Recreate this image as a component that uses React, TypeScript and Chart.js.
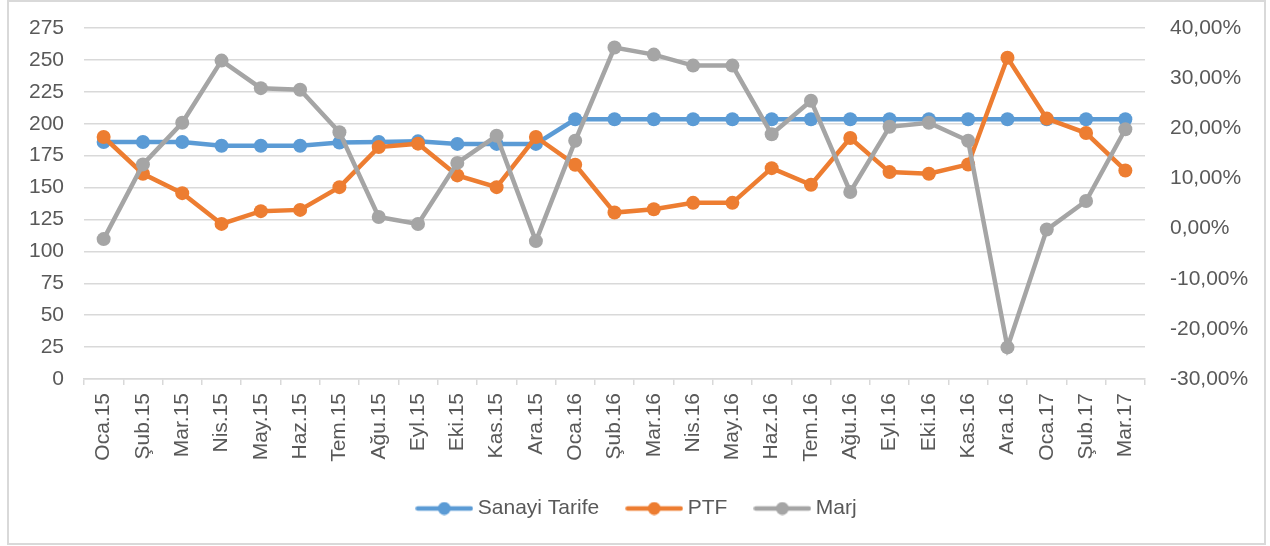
import React, { useEffect, useRef } from "react";
import { Chart, registerables } from "chart.js";

Chart.register(...registerables);

const categories = [
  "Oca.15", "Şub.15", "Mar.15", "Nis.15", "May.15", "Haz.15", "Tem.15", "Ağu.15", "Eyl.15",
  "Eki.15", "Kas.15", "Ara.15", "Oca.16", "Şub.16", "Mar.16", "Nis.16", "May.16", "Haz.16",
  "Tem.16", "Ağu.16", "Eyl.16", "Eki.16", "Kas.16", "Ara.16", "Oca.17", "Şub.17", "Mar.17",
];

const sanayiTarife = [
  185.7, 185.7, 185.7, 182.8, 182.8, 182.8, 185.2, 185.7, 186.2,
  184.2, 184.2, 184.2, 203.5, 203.5, 203.5, 203.5, 203.5, 203.5,
  203.5, 203.5, 203.5, 203.5, 203.5, 203.5, 203.5, 203.5, 203.5,
];

const ptf = [
  189.6, 160.8, 145.6, 121.5, 131.5, 132.5, 150.3, 181.7, 184.4,
  159.5, 150.3, 189.6, 167.9, 130.4, 133.0, 138.0, 138.0, 165.2,
  152.2, 188.8, 162.1, 160.8, 168.1, 251.7, 204.0, 192.7, 163.4,
];

// Marj in percent (right axis)
const marj = [
  -2.1, 12.8, 21.1, 33.5, 28.0, 27.7, 19.2, 2.3, 0.9,
  13.1, 18.5, -2.5, 17.5, 36.1, 34.7, 32.5, 32.5, 18.8,
  25.5, 7.3, 20.3, 21.1, 17.5, -23.7, -0.2, 5.5, 19.8,
];

const seriesNames = ["Sanayi Tarife", "PTF", "Marj"];
const seriesColors = ["#5B9BD5", "#ED7D31", "#A5A5A5"];

const leftMin = 0;
const leftMax = 275;
const leftStep = 25;
const rightMin = -30;
const rightMax = 40;
const rightStep = 10;

const FONT = "'Liberation Sans', Arial, sans-serif";
const TEXT_COLOR = "#595959";
const GRID_COLOR = "#d9d9d9";

function legendIcon(color: string): HTMLCanvasElement {
  const c = document.createElement("canvas");
  c.width = 58;
  c.height = 14;
  const ctx = c.getContext("2d")!;
  ctx.strokeStyle = color;
  ctx.lineWidth = 4.5;
  ctx.lineCap = "round";
  ctx.beginPath();
  ctx.moveTo(2.5, 7);
  ctx.lineTo(55.5, 7);
  ctx.stroke();
  ctx.fillStyle = color;
  ctx.beginPath();
  ctx.arc(29, 7, 6.5, 0, Math.PI * 2);
  ctx.fill();
  return c;
}

export default function App() {
  const canvasRef = useRef<HTMLCanvasElement | null>(null);

  useEffect(() => {
    const canvas = canvasRef.current;
    if (!canvas) return;
    const icons = seriesColors.map((c) => legendIcon(c));
    const seriesData = [sanayiTarife, ptf, marj];
    const axes = ["y", "y", "y1"];
    const orders = [3, 2, 1];

    const chart = new Chart(canvas, {
      type: "line",
      data: {
        labels: categories,
        datasets: seriesNames.map((name, i) => ({
          label: name,
          data: seriesData[i],
          yAxisID: axes[i],
          order: orders[i],
          borderColor: seriesColors[i],
          backgroundColor: seriesColors[i],
          borderWidth: 4.5,
          pointRadius: 7,
          pointBorderWidth: 0,
          pointBackgroundColor: seriesColors[i],
          pointHoverRadius: 7,
          tension: 0,
          fill: false,
        })),
      },
      options: {
        animation: false,
        responsive: false,
        devicePixelRatio: 1,
        layout: { padding: { left: 8, right: 0, top: 28, bottom: 17 } },
        plugins: {
          tooltip: { enabled: false },
          legend: {
            position: "bottom",
            labels: {
              usePointStyle: true,
              pointStyleWidth: 46,
              padding: 32,
              color: TEXT_COLOR,
              font: { size: 21, family: FONT },
              generateLabels: () =>
                seriesNames.map((name, i) => ({
                  text: name,
                  pointStyle: icons[i] as any,
                  fillStyle: seriesColors[i],
                  strokeStyle: seriesColors[i],
                  lineWidth: 0,
                  hidden: false,
                  datasetIndex: i,
                  fontColor: TEXT_COLOR,
                })),
            },
          },
        },
        scales: {
          x: {
            type: "category",
            offset: true,
            grid: {
              offset: true,
              drawOnChartArea: false,
              drawTicks: true,
              tickLength: 6,
              color: GRID_COLOR,
              lineWidth: 1.5,
            },
            border: { display: true, color: GRID_COLOR, width: 1.5 },
            ticks: {
              autoSkip: false,
              maxRotation: 90,
              minRotation: 90,
              padding: 8,
              color: TEXT_COLOR,
              font: { size: 21, family: FONT },
            },
            afterFit: (s: any) => {
              s.height = 87;
            },
          },
          y: {
            position: "left",
            min: leftMin,
            max: leftMax,
            ticks: {
              stepSize: leftStep,
              padding: 20,
              color: TEXT_COLOR,
              font: { size: 21, family: FONT },
            },
            grid: { color: GRID_COLOR, lineWidth: 1.5, drawTicks: false },
            border: { display: false },
            afterFit: (s: any) => {
              s.width = 76;
              s.paddingTop = 0;
              s.paddingBottom = 0;
            },
          },
          y1: {
            position: "right",
            min: rightMin,
            max: rightMax,
            ticks: {
              stepSize: rightStep,
              padding: 25,
              color: TEXT_COLOR,
              font: { size: 21, family: FONT },
              callback: (v: any) => Number(v).toFixed(2).replace(".", ",") + "%",
            },
            grid: { drawOnChartArea: false, drawTicks: false },
            border: { display: false },
            afterFit: (s: any) => {
              s.width = 125;
              s.paddingTop = 0;
              s.paddingBottom = 0;
            },
          },
        },
      },
    });

    return () => {
      chart.destroy();
    };
  }, []);

  return (
    <div style={{ position: "fixed", left: 0, top: 0, width: 1270, height: 546, background: "#fff" }}>
      <canvas ref={canvasRef} width={1270} height={546} style={{ position: "absolute", left: 0, top: 0, width: 1270, height: 546 }} />
      <div
        style={{
          position: "absolute",
          left: 7,
          top: 0,
          width: 1259,
          height: 545,
          boxSizing: "border-box",
          border: "2px solid #d9d9d9",
          pointerEvents: "none",
        }}
      />
    </div>
  );
}
